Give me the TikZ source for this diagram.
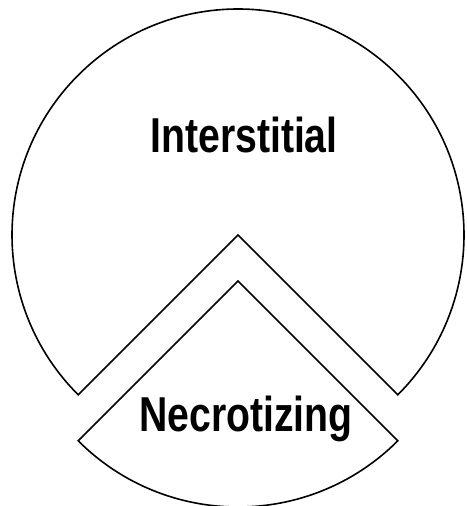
\documentclass[tikz,border=0pt]{standalone}
\usepackage{fontspec}
\setmainfont{Liberation Sans}
\usetikzlibrary{positioning}

\begin{document}
\begin{tikzpicture}[x=1pt, y=1pt, line width=1.6pt, line join=miter,
    sectortext/.style={font=\bfseries\fontsize{49}{49}\selectfont, inner sep=0pt,
      anchor=base, xscale=0.8, transform shape}]
  \useasboundingbox (0,0) rectangle (466,506);
  % 上部扇形 (270度)
  \coordinate (c1) at (238,271);
  \draw (c1) -- ++(-45:226) arc (-45:225:226) -- cycle;
  % 下部扇形 (90度, 向下移出)
  \coordinate (c2) at (238,225);
  \draw (c2) -- ++(-135:226) arc (-135:-45:226) -- cycle;
  % 文字
  \node[sectortext] (inter) at (244,353) {Interstitial};
  \node[sectortext] (necro) at (246,74) {Necrotizing};
\end{tikzpicture}
\end{document}
